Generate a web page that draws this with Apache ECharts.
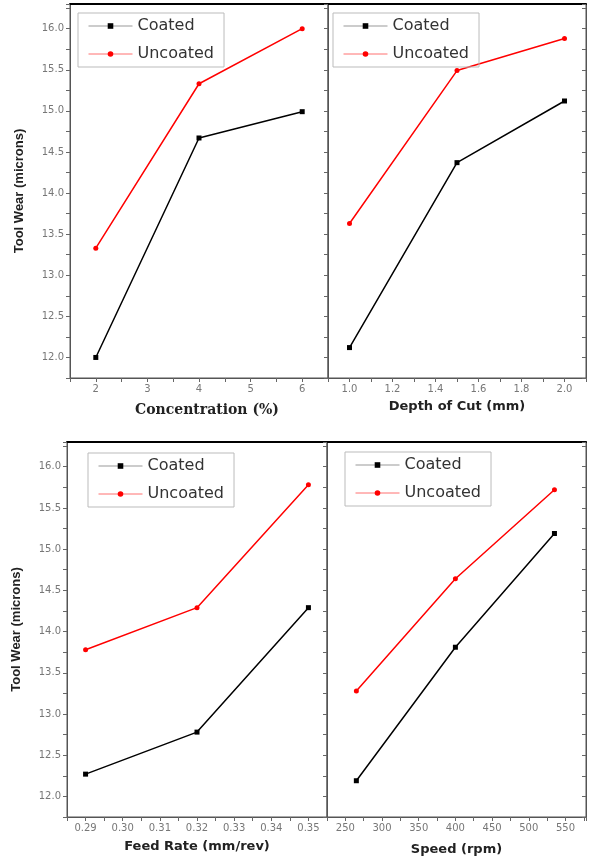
<!DOCTYPE html>
<html>
<head>
<meta charset="utf-8">
<title>Tool Wear</title>
<script src="https://cdn.jsdelivr.net/npm/echarts@6/dist/echarts.min.js"></script>
<style>
  html, body { margin: 0; padding: 0; background: #fff; }
  #toolWearChart { width: 589px; height: 859px; }
</style>
</head>
<body>
<div id="toolWearChart"></div>
<script>
// 读图得到的数据 (tool wear, microns)
var concentration = [2, 4, 6]
var coatedConc = [12.0, 14.67, 14.99]
var uncoatedConc = [13.33, 15.33, 16.0]

var depthOfCut = [1.0, 1.5, 2.0]
var coatedDepth = [12.12, 14.37, 15.12]
var uncoatedDepth = [13.63, 15.49, 15.88]

var feedRate = [0.29, 0.32, 0.35]
var coatedFeed = [12.27, 12.78, 14.29]
var uncoatedFeed = [13.78, 14.29, 15.78]

var speed = [265, 400, 535]
var coatedSpeed = [12.19, 13.81, 15.19]
var uncoatedSpeed = [13.28, 14.64, 15.72]

// tick labels
var wearTicks = [12.0, 12.5, 13.0, 13.5, 14.0, 14.5, 15.0, 15.5, 16.0]
var concTicks = [2, 3, 4, 5, 6]
var depthTicks = [1.0, 1.2, 1.4, 1.6, 1.8, 2.0]
var feedTicks = [0.29, 0.30, 0.31, 0.32, 0.33, 0.34, 0.35]
var speedTicks = [250, 300, 350, 400, 450, 500, 550]

function pairs(xs, ys) {
  return xs.map(function(x, i) { return [x, ys[i]] })
}

// only print labels that are in the list, the rest are minor ticks
function labelsFrom(list, digits) {
  return function(v) {
    for (var i = 0; i < list.length; i++) {
      if (Math.abs(v - list[i]) < 1e-6) return list[i].toFixed(digits)
    }
    return ''
  }
}

var grids = [
  { left: 70, top: 4, width: 258, height: 374 },
  { left: 328, top: 4, width: 260, height: 374 },
  { left: 67, top: 442, width: 260, height: 375 },
  { left: 327, top: 442, width: 261, height: 375 }
]

var tickLabel = { fontFamily: 'DejaVu Sans', fontSize: 10, color: '#777' }
var axisLine = { show: true, lineStyle: { color: '#555', width: 1 } }
var tickLine = { show: true, length: 4, lineStyle: { color: '#666' } }

function bottomAxis(g, min, max, step, ticks, digits, name, font, gap) {
  return {
    type: 'value', gridIndex: g, position: 'bottom',
    min: min, max: max, interval: step,
    splitLine: { show: false },
    axisLine: axisLine,
    axisTick: tickLine,
    axisLabel: Object.assign({ margin: 6, formatter: labelsFrom(ticks, digits) }, tickLabel),
    name: name, nameLocation: 'middle', nameGap: gap,
    nameTextStyle: Object.assign({ fontWeight: 'bold', color: '#222' }, font)
  }
}

function topLine(g) {
  return {
    type: 'value', gridIndex: g, position: 'top', min: 0, max: 1,
    splitLine: { show: false }, axisTick: { show: false }, axisLabel: { show: false },
    axisLine: { show: true, lineStyle: { color: '#000', width: 2 } }
  }
}

function wearAxis(g, showLabels, position) {
  var ax = {
    type: 'value', gridIndex: g, position: position || 'left',
    min: 11.75, max: 16.3, interval: 0.25,
    splitLine: { show: false },
    axisLine: axisLine,
    axisTick: Object.assign({}, tickLine, { inside: position === 'right' }),
    axisLabel: Object.assign({ show: showLabels, margin: 6, formatter: labelsFrom(wearTicks, 1) }, tickLabel)
  }
  if (showLabels) {
    ax.name = 'Tool Wear (microns)'
    ax.nameLocation = 'middle'
    ax.nameGap = 44
    ax.nameTextStyle = { fontFamily: 'Liberation Sans', fontWeight: 'bold', fontSize: 13, color: '#222' }
  }
  return ax
}

var sansTitle = { fontFamily: 'DejaVu Sans', fontSize: 13 }
var serifTitle = { fontFamily: 'DejaVu Serif', fontSize: 14, padding: [0, 0, 0, 16] }

function makeLegend(left, top) {
  return {
    orient: 'vertical', left: left, top: top,
    data: [
      { name: 'Coated', lineStyle: { color: '#999', width: 1 } },
      { name: 'Uncoated', lineStyle: { color: '#ff7070', width: 1 } }
    ],
    borderColor: '#bbb', borderWidth: 1, borderRadius: 0,
    padding: [5, 10, 5, 10], itemGap: 12,
    itemWidth: 44, itemHeight: 7,
    textStyle: { fontFamily: 'DejaVu Sans', fontSize: 16, color: '#333' }
  }
}

function lineSeries(name, g, xs, ys) {
  var coated = name === 'Coated'
  return {
    name: name, type: 'line', xAxisIndex: g, yAxisIndex: g,
    data: pairs(xs, ys),
    symbol: coated ? 'rect' : 'circle', symbolSize: 5,
    itemStyle: { color: coated ? '#000' : '#ff0000' },
    lineStyle: { color: coated ? '#000' : '#ff0000', width: 1.5 },
    animation: false
  }
}

var toolWearChart = echarts.init(document.getElementById('toolWearChart'))
toolWearChart.setOption({
  backgroundColor: '#fff',
  animation: false,
  grid: grids.map(function(g) {
    return Object.assign({ show: true, borderColor: '#555', borderWidth: 1 }, g)
  }),
  legend: [makeLegend(78, 13), makeLegend(333, 13), makeLegend(88, 453), makeLegend(345, 452)],
  xAxis: [
    bottomAxis(0, 1.5, 6.5, 0.5, concTicks, 0, 'Concentration (%)', serifTitle, 25),
    bottomAxis(1, 0.9, 2.1, 0.1, depthTicks, 1, 'Depth of Cut (mm)', sansTitle, 22),
    bottomAxis(2, 0.285, 0.355, 0.005, feedTicks, 2, 'Feed Rate (mm/rev)', sansTitle, 23),
    bottomAxis(3, 225, 578, 25, speedTicks, 0, 'Speed (rpm)', sansTitle, 26),
    topLine(0), topLine(1), topLine(2), topLine(3)
  ],
  yAxis: [
    wearAxis(0, true), wearAxis(1, false), wearAxis(2, true), wearAxis(3, false),
    wearAxis(1, false, 'right'), wearAxis(3, false, 'right')
  ],
  series: [
    lineSeries('Coated', 0, concentration, coatedConc),
    lineSeries('Uncoated', 0, concentration, uncoatedConc),
    lineSeries('Coated', 1, depthOfCut, coatedDepth),
    lineSeries('Uncoated', 1, depthOfCut, uncoatedDepth),
    lineSeries('Coated', 2, feedRate, coatedFeed),
    lineSeries('Uncoated', 2, feedRate, uncoatedFeed),
    lineSeries('Coated', 3, speed, coatedSpeed),
    lineSeries('Uncoated', 3, speed, uncoatedSpeed)
  ]
})
window.addEventListener('resize', function() { toolWearChart.resize() })
</script>
</body>
</html>
